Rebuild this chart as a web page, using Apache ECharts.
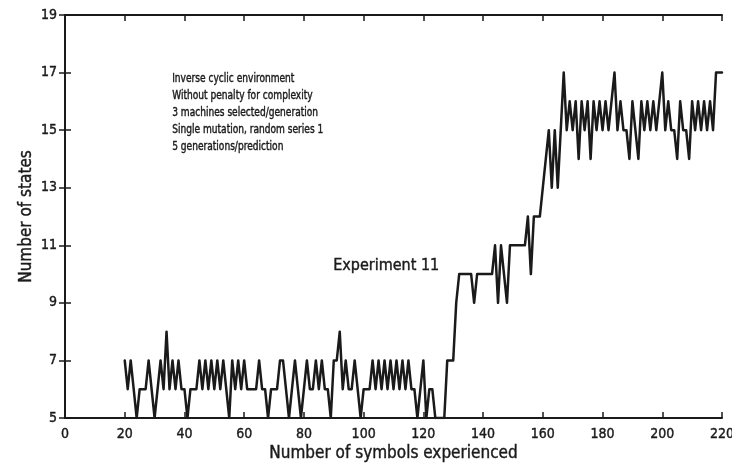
<!DOCTYPE html>
<html>
<head>
<meta charset="utf-8">
<script src="https://cdn.jsdelivr.net/npm/echarts@6/dist/echarts.min.js"></script>
<style>
  html, body { margin: 0; padding: 0; background: #ffffff; }
  #chart { width: 732px; height: 465px; }
</style>
</head>
<body>
<div id="chart"></div>
<script>
// First symbol index plotted, then the number of states after each symbol
const symbolStart = 20;
const states = [
  7, 6, 7, 6, 5, 6, 6, 6, 7, 6,   // 20-29
  5, 6, 7, 6, 8, 6, 7, 6, 7, 6,   // 30-39
  6, 5, 6, 6, 6, 7, 6, 7, 6, 7,   // 40-49
  6, 7, 6, 7, 6, 5, 7, 6, 7, 6,   // 50-59
  7, 6, 6, 6, 6, 7, 6, 6, 5, 6,   // 60-69
  6, 6, 7, 7, 6, 5, 6, 7, 6, 5,   // 70-79
  6, 7, 6, 6, 7, 6, 7, 6, 6, 5,   // 80-89
  7, 7, 8, 6, 7, 6, 6, 7, 6, 5,   // 90-99
  6, 6, 6, 7, 6, 7, 6, 7, 6, 7,   // 100-109
  6, 7, 6, 7, 6, 7, 6, 6, 5, 6,   // 110-119
  7, 5, 6, 6, 5, 5, 5, 5, 7, 7,   // 120-129
  7, 9, 10, 10, 10, 10, 10, 9, 10, 10, // 130-139
  10, 10, 10, 10, 11, 9, 11, 10, 9, 11, // 140-149
  11, 11, 11, 11, 11, 12, 10, 12, 12, 12, // 150-159
  13, 14, 15, 13, 15, 13, 15, 17, 15, 16, // 160-169
  15, 16, 14, 16, 15, 16, 14, 16, 15, 16, // 170-179
  15, 16, 15, 16, 17, 15, 16, 15, 15, 14, // 180-189
  16, 15, 14, 16, 15, 16, 15, 16, 15, 16, // 190-199
  17, 15, 16, 15, 15, 14, 16, 15, 15, 14, // 200-209
  16, 15, 16, 15, 16, 15, 16, 15, 17, 17, // 210-219
  17                                      // 220
];

const xTicks = { min: 0, max: 220, step: 20 };
const yTicks = { min: 5, max: 19, step: 2 };

const notes = [
  'Inverse cyclic environment',
  'Without penalty for complexity',
  '3 machines selected/generation',
  'Single mutation, random series 1',
  '5 generations/prediction'
];
const experimentLabel = 'Experiment 11';

const FONT = '"DejaVu Sans Condensed", "Liberation Sans Narrow", sans-serif';
const NARROW = '"Liberation Sans Narrow", "DejaVu Sans Condensed", sans-serif';
const INK = '#1a1a1a';

const points = states.map((v, i) => [symbolStart + i, v]);

const chart = echarts.init(document.getElementById('chart'), null, { renderer: 'canvas' });

const frameLine = { show: true, lineStyle: { color: INK, width: 2 } };
const inTicks = { show: true, inside: true, length: 6, lineStyle: { color: INK, width: 1.5 } };
const heavy = { textBorderColor: INK, textBorderWidth: 0.4 };

chart.setOption({
  backgroundColor: '#ffffff',
  animation: false,
  grid: { left: 65, right: 10, top: 15, bottom: 47, containLabel: false, outerBoundsMode: 'none' },
  xAxis: [
    {
      type: 'value', position: 'bottom',
      min: xTicks.min, max: xTicks.max, interval: xTicks.step,
      axisLine: frameLine, axisTick: inTicks, splitLine: { show: false },
      axisLabel: Object.assign({ color: INK, fontFamily: FONT, fontSize: 14, margin: 9 }, heavy),
      name: 'Number of symbols experienced', nameLocation: 'middle', nameGap: 27,
      nameMoveOverlap: false,
      nameTextStyle: Object.assign({ color: INK, fontFamily: FONT, fontSize: 17 }, heavy)
    },
    {
      type: 'value', position: 'top',
      min: xTicks.min, max: xTicks.max, interval: xTicks.step,
      axisLine: frameLine, axisTick: inTicks, axisLabel: { show: false }, splitLine: { show: false }
    }
  ],
  yAxis: [
    {
      type: 'value', position: 'left',
      min: yTicks.min, max: yTicks.max, interval: yTicks.step,
      axisLine: frameLine, axisTick: inTicks, splitLine: { show: false },
      axisLabel: Object.assign({ color: INK, fontFamily: FONT, fontSize: 14, margin: 8 }, heavy),
      name: 'Number of states', nameLocation: 'middle', nameGap: 30, nameRotate: 90,
      nameMoveOverlap: false,
      nameTextStyle: Object.assign({ color: INK, fontFamily: FONT, fontSize: 17 }, heavy)
    },
    {
      type: 'value', position: 'right',
      min: yTicks.min, max: yTicks.max, interval: yTicks.step,
      axisLine: frameLine, axisTick: inTicks, axisLabel: { show: false }, splitLine: { show: false }
    }
  ],
  series: [
    {
      type: 'line',
      data: points,
      showSymbol: false,
      lineStyle: { color: INK, width: 2.5, join: 'round', cap: 'round' },
      z: 3
    }
  ],
  graphic: [
    {
      type: 'text', left: 172, top: 70,
      scaleX: 0.84, originX: 0, originY: 0,
      style: {
        text: notes.join('\n'),
        fill: INK, font: '12px ' + NARROW, lineHeight: 17,
        stroke: INK, lineWidth: 0.4
      }
    },
    {
      type: 'text', left: 333, top: 258,
      style: { text: experimentLabel, fill: INK, font: '16px ' + FONT, stroke: INK, lineWidth: 0.4 }
    }
  ]
});
</script>
</body>
</html>
